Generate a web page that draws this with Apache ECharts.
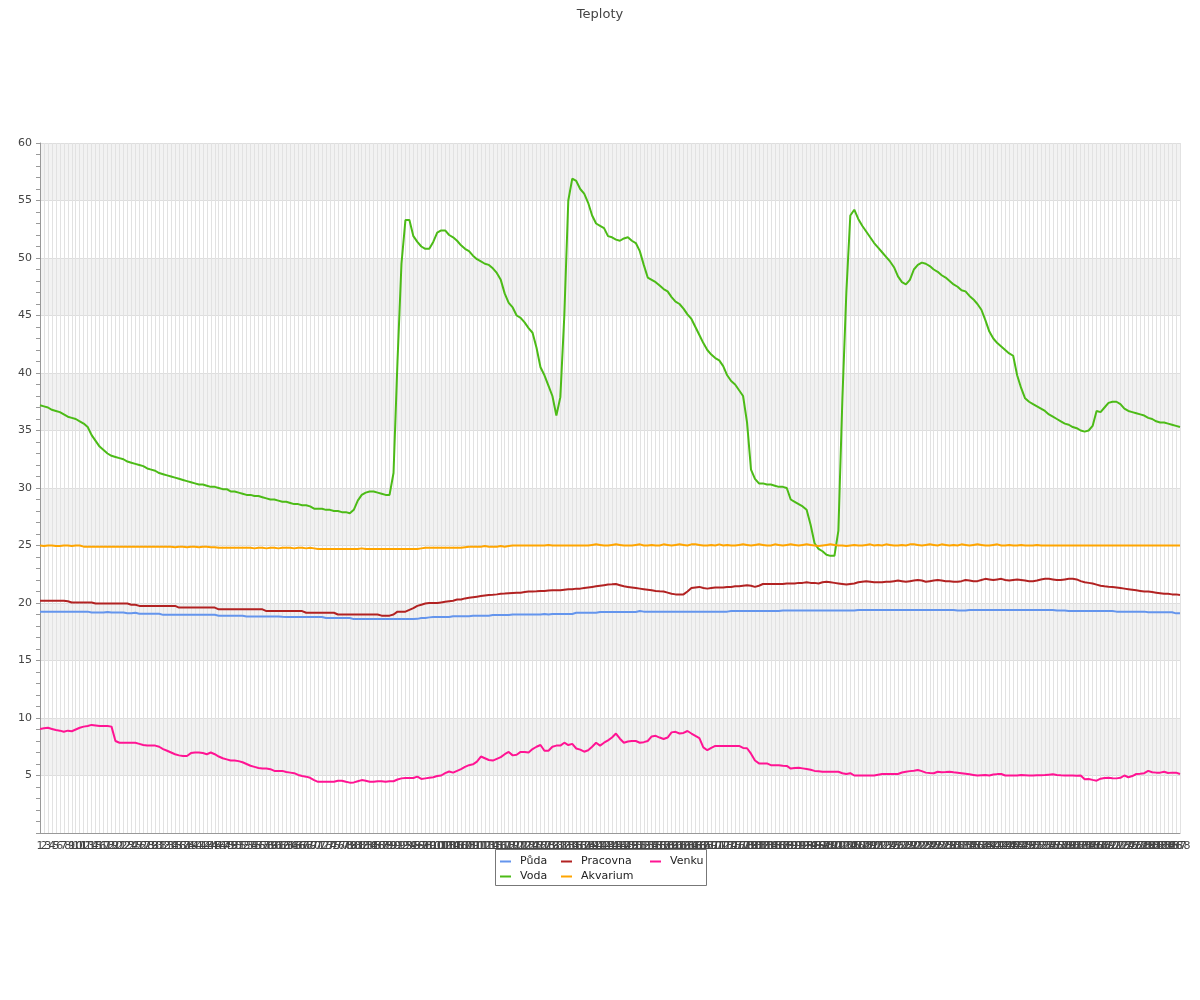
<!DOCTYPE html>
<html>
<head>
<meta charset="utf-8">
<title>Teploty</title>
<script src="https://cdn.jsdelivr.net/npm/echarts@6/dist/echarts.min.js"></script>
<style>
html,body{margin:0;padding:0;background:#fff;}
#chart{width:1200px;height:1000px;}
</style>
</head>
<body>
<div id="chart"></div>
<script>
// ---- DATA ----
const title = 'Teploty';
const seriesNames = ['Půda', 'Voda', 'Pracovna', 'Akvarium', 'Venku'];
const categories = [];
for (let k = 1; k <= 288; k++) categories.push(String(k));

const puda = [
19.25,19.25,19.25,19.25,19.25,19.25,19.25,19.25,19.25,19.25,
19.25,19.25,19.25,19.17,19.17,19.17,19.17,19.22,19.17,19.17,
19.17,19.17,19.1,19.1,19.15,19.07,19.07,19.07,19.07,19.07,
19.07,18.97,18.97,18.97,18.97,18.97,18.97,18.97,18.97,18.97,
18.97,18.97,18.97,18.97,18.97,18.9,18.9,18.9,18.9,18.9,
18.9,18.9,18.83,18.83,18.83,18.83,18.83,18.83,18.83,18.83,
18.83,18.8,18.78,18.78,18.78,18.78,18.78,18.78,18.78,18.78,
18.78,18.78,18.7,18.7,18.7,18.7,18.7,18.7,18.7,18.6,
18.6,18.6,18.6,18.6,18.6,18.6,18.6,18.6,18.6,18.6,
18.6,18.6,18.6,18.6,18.6,18.62,18.7,18.7,18.75,18.78,
18.78,18.78,18.78,18.78,18.85,18.85,18.85,18.85,18.85,18.9,
18.9,18.9,18.9,18.9,18.95,18.95,18.95,18.95,18.95,19.0,
19.0,19.0,19.0,19.0,19.0,19.0,19.0,19.05,19.0,19.05,
19.05,19.05,19.05,19.05,19.05,19.15,19.15,19.15,19.15,19.15,
19.15,19.22,19.22,19.22,19.22,19.22,19.22,19.22,19.22,19.22,
19.22,19.3,19.25,19.25,19.25,19.25,19.25,19.25,19.25,19.25,
19.25,19.25,19.25,19.25,19.25,19.25,19.25,19.25,19.25,19.25,
19.25,19.25,19.25,19.25,19.3,19.3,19.3,19.3,19.3,19.3,
19.3,19.3,19.3,19.3,19.3,19.3,19.3,19.35,19.35,19.35,
19.35,19.35,19.35,19.35,19.35,19.35,19.35,19.35,19.35,19.35,
19.35,19.35,19.35,19.35,19.35,19.35,19.4,19.4,19.4,19.4,
19.4,19.4,19.4,19.4,19.4,19.4,19.4,19.4,19.4,19.4,
19.4,19.4,19.4,19.4,19.4,19.4,19.4,19.4,19.4,19.4,
19.4,19.35,19.35,19.35,19.4,19.4,19.4,19.4,19.4,19.4,
19.4,19.4,19.4,19.4,19.4,19.4,19.4,19.4,19.4,19.4,
19.4,19.4,19.4,19.4,19.4,19.4,19.35,19.35,19.35,19.3,
19.3,19.3,19.3,19.3,19.3,19.3,19.3,19.3,19.3,19.3,
19.3,19.25,19.25,19.25,19.25,19.25,19.25,19.25,19.25,19.2,
19.2,19.2,19.2,19.2,19.2,19.2,19.1,19.1
];

const voda = [
37.2,37.1,37.0,36.8,36.7,36.6,36.4,36.2,36.1,36.0,
35.8,35.6,35.3,34.6,34.1,33.6,33.3,33.0,32.8,32.7,
32.6,32.5,32.3,32.2,32.1,32.0,31.9,31.7,31.6,31.5,
31.3,31.2,31.1,31.0,30.9,30.8,30.7,30.6,30.5,30.4,
30.3,30.3,30.2,30.1,30.1,30.0,29.9,29.9,29.7,29.7,
29.6,29.5,29.4,29.4,29.3,29.3,29.2,29.1,29.0,29.0,
28.9,28.8,28.8,28.7,28.6,28.6,28.5,28.5,28.4,28.2,
28.2,28.2,28.1,28.1,28.0,28.0,27.9,27.9,27.8,28.1,
28.9,29.4,29.6,29.7,29.7,29.6,29.5,29.4,29.4,31.3,
41.0,49.5,53.3,53.3,51.9,51.4,51.0,50.8,50.8,51.4,
52.2,52.4,52.4,52.0,51.8,51.5,51.1,50.8,50.6,50.2,
49.9,49.7,49.5,49.4,49.1,48.7,48.1,46.9,46.1,45.7,
45.0,44.8,44.4,43.9,43.5,42.2,40.5,39.8,38.9,38.0,
36.3,37.9,45.0,55.0,56.9,56.7,56.0,55.6,54.8,53.7,
53.0,52.8,52.6,51.9,51.8,51.6,51.5,51.7,51.8,51.5,
51.3,50.6,49.4,48.3,48.1,47.9,47.6,47.3,47.1,46.6,
46.2,46.0,45.6,45.1,44.7,44.0,43.3,42.6,42.0,41.6,
41.3,41.1,40.6,39.8,39.3,39.0,38.5,38.0,35.7,31.6,
30.8,30.4,30.4,30.3,30.3,30.2,30.1,30.1,30.0,29.0,
28.8,28.6,28.4,28.1,26.8,25.2,24.7,24.5,24.2,24.1,
24.1,26.3,37.7,47.0,53.7,54.2,53.4,52.8,52.3,51.8,
51.3,50.9,50.5,50.1,49.7,49.2,48.4,47.9,47.7,48.1,
49.0,49.4,49.6,49.5,49.3,49.0,48.8,48.5,48.3,48.0,
47.7,47.5,47.2,47.1,46.7,46.4,46.0,45.5,44.6,43.6,
43.0,42.6,42.3,42.0,41.7,41.5,39.8,38.7,37.8,37.5,
37.3,37.1,36.9,36.7,36.4,36.2,36.0,35.8,35.6,35.5,
35.3,35.2,35.0,34.9,35.0,35.4,36.7,36.6,37.0,37.4,
37.5,37.5,37.3,36.9,36.7,36.6,36.5,36.4,36.3,36.1,
36.0,35.8,35.7,35.7,35.6,35.5,35.4,35.3
];

const pracovna = [
20.2,20.2,20.2,20.2,20.2,20.2,20.2,20.15,20.05,20.05,
20.05,20.05,20.05,20.05,19.95,19.95,19.95,19.95,19.95,19.95,
19.95,19.95,19.95,19.85,19.85,19.75,19.75,19.75,19.75,19.75,
19.75,19.75,19.75,19.75,19.75,19.6,19.6,19.6,19.6,19.6,
19.6,19.6,19.6,19.6,19.6,19.45,19.45,19.45,19.45,19.45,
19.45,19.45,19.45,19.45,19.45,19.45,19.45,19.3,19.3,19.3,
19.3,19.3,19.3,19.3,19.3,19.3,19.3,19.15,19.15,19.15,
19.15,19.15,19.15,19.15,19.15,19.0,19.0,19.0,19.0,19.0,
19.0,19.0,19.0,19.0,19.0,19.0,18.9,18.9,18.9,19.0,
19.25,19.25,19.25,19.4,19.55,19.75,19.85,19.95,20.0,20.0,
20.0,20.05,20.1,20.15,20.2,20.3,20.3,20.4,20.45,20.5,
20.55,20.6,20.65,20.7,20.72,20.75,20.8,20.82,20.85,20.88,
20.9,20.9,20.95,21.0,21.0,21.02,21.05,21.05,21.08,21.1,
21.1,21.1,21.15,21.2,21.2,21.25,21.25,21.3,21.35,21.4,
21.45,21.5,21.55,21.6,21.62,21.65,21.55,21.45,21.4,21.35,
21.3,21.25,21.2,21.15,21.1,21.05,21.02,21.0,20.9,20.8,
20.75,20.75,20.75,21.0,21.3,21.35,21.4,21.3,21.25,21.3,
21.35,21.35,21.35,21.4,21.4,21.45,21.45,21.5,21.55,21.5,
21.4,21.5,21.65,21.65,21.65,21.65,21.65,21.65,21.7,21.7,
21.7,21.75,21.75,21.8,21.75,21.75,21.7,21.8,21.85,21.8,
21.75,21.7,21.65,21.6,21.65,21.7,21.8,21.85,21.9,21.85,
21.8,21.8,21.8,21.85,21.85,21.9,21.95,21.9,21.85,21.9,
21.95,22.0,21.95,21.85,21.9,21.95,22.0,21.95,21.9,21.9,
21.85,21.85,21.9,22.0,21.95,21.9,21.9,22.0,22.1,22.05,
22.0,22.05,22.1,22.0,21.95,22.0,22.05,22.0,21.95,21.9,
21.9,21.95,22.05,22.1,22.1,22.05,22.0,22.0,22.05,22.1,
22.1,22.05,21.9,21.8,21.75,21.7,21.6,21.5,21.45,21.42,
21.4,21.35,21.3,21.25,21.2,21.15,21.1,21.05,21.0,21.0,
20.95,20.9,20.85,20.8,20.8,20.75,20.75,20.7
];

const akvarium = [
25.0,24.95,25.0,25.0,24.95,24.95,25.0,25.0,24.95,25.0,
25.0,24.9,24.9,24.9,24.9,24.9,24.9,24.9,24.9,24.9,
24.9,24.9,24.9,24.9,24.9,24.9,24.9,24.9,24.9,24.9,
24.9,24.9,24.9,24.9,24.85,24.9,24.9,24.85,24.9,24.9,
24.85,24.9,24.9,24.85,24.85,24.8,24.8,24.8,24.8,24.8,
24.8,24.8,24.8,24.8,24.75,24.8,24.8,24.75,24.8,24.8,
24.75,24.8,24.8,24.8,24.75,24.8,24.8,24.75,24.8,24.75,
24.7,24.7,24.7,24.7,24.7,24.7,24.7,24.7,24.7,24.7,
24.7,24.75,24.7,24.7,24.7,24.7,24.7,24.7,24.7,24.7,
24.7,24.7,24.7,24.7,24.7,24.7,24.75,24.8,24.8,24.8,
24.8,24.8,24.8,24.8,24.8,24.8,24.8,24.85,24.9,24.9,
24.9,24.9,24.95,24.9,24.9,24.9,24.95,24.9,24.95,25.0,
25.0,25.0,25.0,25.0,25.0,25.0,25.0,25.0,25.05,25.0,
25.0,25.0,25.0,25.0,25.0,25.0,25.0,25.0,25.0,25.05,
25.1,25.05,25.0,25.0,25.05,25.1,25.05,25.0,25.0,25.0,
25.05,25.1,25.0,25.0,25.05,25.0,25.0,25.1,25.05,25.0,
25.05,25.1,25.05,25.0,25.1,25.1,25.05,25.0,25.0,25.05,
25.0,25.1,25.0,25.05,25.0,25.0,25.05,25.1,25.05,25.0,
25.05,25.1,25.05,25.0,25.0,25.1,25.05,25.0,25.05,25.1,
25.05,25.0,25.05,25.1,25.05,25.0,24.95,25.0,25.05,25.1,
25.05,25.0,25.0,24.95,25.0,25.05,25.0,25.0,25.05,25.1,
25.0,25.05,25.0,25.1,25.05,25.0,25.0,25.05,25.0,25.1,
25.1,25.05,25.0,25.05,25.1,25.05,25.0,25.1,25.05,25.0,
25.05,25.0,25.1,25.05,25.0,25.05,25.1,25.05,25.0,25.0,
25.05,25.1,25.0,25.0,25.05,25.0,25.0,25.05,25.0,25.0,
25.0,25.05,25.0,25.0,25.0,25.0,25.0,25.0,25.0,25.0,
25.0,25.0,25.0,25.0,25.0,25.0,25.0,25.0,25.0,25.0,
25.0,25.0,25.0,25.0,25.0,25.0,25.0,25.0,25.0,25.0,
25.0,25.0,25.0,25.0,25.0,25.0,25.0,25.0
];

const venku = [
9.05,9.1,9.15,9.05,8.95,8.9,8.8,8.9,8.85,9.0,
9.15,9.25,9.3,9.4,9.35,9.3,9.3,9.3,9.25,8.0,
7.85,7.85,7.85,7.85,7.85,7.75,7.65,7.6,7.6,7.6,
7.5,7.3,7.15,7.0,6.85,6.75,6.7,6.7,6.95,7.0,
7.0,6.95,6.85,7.0,6.85,6.65,6.5,6.4,6.3,6.3,
6.25,6.15,6.0,5.85,5.75,5.65,5.6,5.6,5.55,5.4,
5.4,5.4,5.3,5.25,5.2,5.05,4.95,4.9,4.8,4.6,
4.45,4.45,4.45,4.45,4.45,4.55,4.55,4.45,4.38,4.4,
4.5,4.6,4.55,4.45,4.45,4.5,4.5,4.45,4.5,4.5,
4.65,4.75,4.78,4.78,4.78,4.9,4.7,4.75,4.8,4.85,
4.95,5.0,5.2,5.35,5.25,5.4,5.55,5.75,5.9,5.97,
6.2,6.65,6.5,6.35,6.3,6.45,6.6,6.85,7.05,6.75,
6.8,7.05,7.05,7.0,7.3,7.5,7.65,7.15,7.15,7.5,
7.6,7.6,7.85,7.65,7.75,7.35,7.25,7.07,7.2,7.5,
7.85,7.6,7.85,8.05,8.3,8.65,8.2,7.85,7.95,8.0,
8.0,7.85,7.9,8.0,8.4,8.45,8.3,8.17,8.3,8.75,
8.8,8.65,8.7,8.87,8.65,8.45,8.25,7.45,7.2,7.4,
7.57,7.57,7.57,7.57,7.57,7.57,7.57,7.4,7.37,6.9,
6.3,6.05,6.05,6.05,5.9,5.9,5.9,5.85,5.83,5.6,
5.65,5.67,5.62,5.57,5.5,5.4,5.37,5.33,5.33,5.33,
5.33,5.33,5.2,5.13,5.2,5.0,5.0,5.0,5.0,5.0,
5.0,5.07,5.13,5.13,5.13,5.13,5.13,5.26,5.33,5.38,
5.42,5.48,5.38,5.25,5.22,5.2,5.33,5.28,5.3,5.33,
5.28,5.24,5.2,5.15,5.1,5.05,5.0,5.02,5.04,5.0,
5.08,5.12,5.13,5.0,5.0,5.0,5.0,5.04,5.02,5.0,
5.0,5.02,5.03,5.04,5.07,5.1,5.05,5.02,5.0,5.0,
5.0,4.98,5.0,4.67,4.7,4.62,4.55,4.72,4.78,4.8,
4.77,4.75,4.8,5.0,4.85,4.95,5.13,5.16,5.2,5.4,
5.28,5.25,5.25,5.33,5.22,5.25,5.25,5.13
];

const seriesData = [puda, voda, pracovna, akvarium, venku];
const seriesColors = ['#6495ed', '#4cbb17', '#b22222', '#ffa500', '#ff1493'];
const yTicks = { min: 0, max: 60, interval: 5 };

// ---- CHART ----
const FONT = 'DejaVu Sans';
const chart = echarts.init(document.getElementById('chart'), null, { renderer: 'canvas' });

const legendCommon = {
  orient: 'vertical',
  padding: 0,
  itemGap: 4,
  itemWidth: 11,
  itemHeight: 2,
  icon: 'rect',
  textStyle: { fontFamily: FONT, fontSize: 11, color: '#222', padding: [0, 0, 0, 4] }
};

const option = {
  animation: false,
  backgroundColor: '#ffffff',
  color: seriesColors,
  title: {
    text: title,
    left: 'center',
    top: 3,
    textStyle: { fontFamily: FONT, fontSize: 13, fontWeight: 'normal', color: '#444' }
  },
  grid: { left: 40, right: 20, top: 143, bottom: 167, containLabel: false },
  legend: [
    Object.assign({}, legendCommon, { data: [seriesNames[0], seriesNames[1]], left: 500, top: 856 }),
    Object.assign({}, legendCommon, { data: [seriesNames[2], seriesNames[3]], left: 561, top: 856 }),
    Object.assign({}, legendCommon, { data: [seriesNames[4]], left: 650, top: 856 })
  ],
  graphic: [{
    type: 'rect',
    left: 495, top: 849,
    shape: { width: 211, height: 36 },
    style: { fill: '#ffffff', stroke: '#777', lineWidth: 1 },
    z: 0
  }],
  xAxis: {
    type: 'category',
    data: categories,
    boundaryGap: false,
    axisLine: { show: true, lineStyle: { color: '#999', width: 1 } },
    axisTick: { show: false },
    axisLabel: {
      interval: 0, hideOverlap: false, margin: 8,
      fontFamily: FONT, fontSize: 11, color: '#444'
    },
    splitLine: { show: true, interval: 0, lineStyle: { color: '#e2e2e2', width: 1 } }
  },
  yAxis: {
    type: 'value',
    min: yTicks.min, max: yTicks.max, interval: yTicks.interval,
    axisLine: { show: true, lineStyle: { color: '#999', width: 1 } },
    axisTick: { show: true, length: 4, lineStyle: { color: '#999' } },
    minorTick: { show: true, splitNumber: 5, length: 4, lineStyle: { color: '#999' } },
    axisLabel: {
      margin: 8, fontFamily: FONT, fontSize: 11, color: '#444',
      formatter: function (v) { return v === 0 ? '' : String(v); }
    },
    splitLine: { show: true, lineStyle: { color: '#dedede', width: 1 } },
    splitArea: { show: true, areaStyle: { color: ['rgba(255,255,255,0)', '#f2f2f2'] } }
  },
  series: seriesNames.map(function (name, k) {
    return {
      name: name,
      type: 'line',
      data: seriesData[k],
      showSymbol: false,
      symbol: 'none',
      smooth: false,
      lineStyle: { width: 2, color: seriesColors[k] },
      itemStyle: { color: seriesColors[k] }
    };
  })
};

chart.setOption(option);
</script>
</body>
</html>
